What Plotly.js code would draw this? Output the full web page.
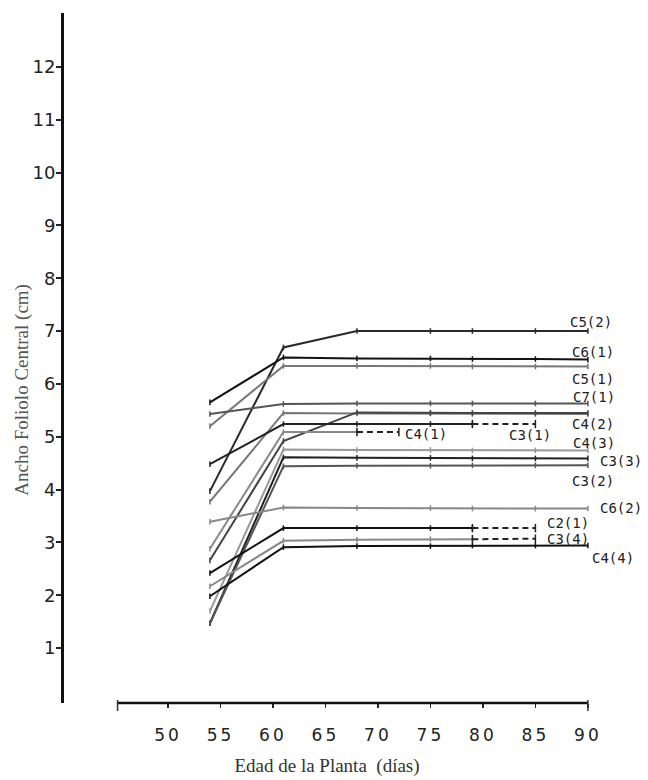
<!DOCTYPE html>
<html>
<head>
<meta charset="utf-8">
<script src="https://cdn.plot.ly/plotly-3.0.1.min.js"></script>
<style>html,body{margin:0;padding:0;background:#fff}</style>
</head>
<body>
<div id="chart" style="width:648px;height:780px"></div>
<script>
// ---------- DATA ----------
const days    = [54, 61, 68, 75, 79, 85, 90];
const daysC41 = [54, 61, 68, 72];

const C5_2  = [3.97, 6.69, 7.00, 7.00, 7.00, 7.00, 7.00];
const C6_1  = [5.65, 6.50, 6.48, 6.48, 6.47, 6.47, 6.46];
const C5_1  = [5.20, 6.34, 6.34, 6.34, 6.33, 6.33, 6.33];
const C7_1  = [5.43, 5.62, 5.63, 5.63, 5.63, 5.63, 5.63];
const C4_2  = [3.77, 5.45, 5.44, 5.44, 5.43, 5.43, 5.43];
const C4_2b = [2.66, 4.92, 5.46, 5.45, 5.45, 5.45, 5.45];
const C3_1  = [4.48, 5.24, 5.24, 5.24, 5.24, 5.24, null];
const C4_1  = [2.88, 5.09, 5.09, 5.09];
const C4_3  = [1.70, 4.76, 4.75, 4.75, 4.74, 4.74, 4.74];
const C3_3  = [1.47, 4.61, 4.60, 4.60, 4.59, 4.59, 4.59];
const C3_2  = [1.47, 4.44, 4.45, 4.45, 4.46, 4.46, 4.46];
const C6_2  = [3.39, 3.66, 3.65, 3.65, 3.64, 3.64, 3.64];
const C2_1  = [2.42, 3.27, 3.27, 3.27, 3.27, 3.27, null];
const C3_4  = [2.17, 3.03, 3.05, 3.06, 3.06, 3.07, null];
const C4_4  = [1.98, 2.91, 2.93, 2.93, 2.94, 2.94, 2.94];

const xTicks = [50, 55, 60, 65, 70, 75, 80, 85, 90];
const yTicks = [1, 2, 3, 4, 5, 6, 7, 8, 9, 10, 11, 12];

// ---------- SERIES (style + label placement) ----------
const series = [
  {label:'C5(2)', x:days,    y:C5_2,  dashFrom:null, color:'#2a2a2a', lx:88.1, ly:7.18},
  {label:'C6(1)', x:days,    y:C6_1,  dashFrom:null, color:'#111111', lx:88.3, ly:6.61},
  {label:'C5(1)', x:days,    y:C5_1,  dashFrom:null, color:'#777777', lx:88.3, ly:6.10},
  {label:'C7(1)', x:days,    y:C7_1,  dashFrom:null, color:'#555555', lx:88.4, ly:5.76},
  {label:'C4(2)', x:days,    y:C4_2,  dashFrom:null, color:'#777777', lx:88.3, ly:5.24},
  {label:'',      x:days,    y:C4_2b, dashFrom:null, color:'#444444'},
  {label:'C3(1)', x:days,    y:C3_1,  dashFrom:4,    color:'#222222', lx:82.3, ly:5.03},
  {label:'C4(1)', x:daysC41, y:C4_1,  dashFrom:2,    color:'#888888', lx:72.4, ly:5.05},
  {label:'C4(3)', x:days,    y:C4_3,  dashFrom:null, color:'#999999', lx:88.4, ly:4.88},
  {label:'C3(3)', x:days,    y:C3_3,  dashFrom:null, color:'#222222', lx:91.0, ly:4.54},
  {label:'C3(2)', x:days,    y:C3_2,  dashFrom:null, color:'#555555', lx:88.3, ly:4.16},
  {label:'C6(2)', x:days,    y:C6_2,  dashFrom:null, color:'#888888', lx:91.0, ly:3.65},
  {label:'C2(1)', x:days,    y:C2_1,  dashFrom:4,    color:'#111111', lx:85.9, ly:3.37},
  {label:'C3(4)', x:days,    y:C3_4,  dashFrom:4,    color:'#888888', lx:85.9, ly:3.07},
  {label:'C4(4)', x:days,    y:C4_4,  dashFrom:null, color:'#111111', lx:90.2, ly:2.71}
];

const X_MIN = 40.1, X_MAX = 90.2, PX_PER_DAY = 10.5;

function pick(xs, ys, a, b){
  const px = [], py = [];
  for (let i = a; i <= b && i < xs.length; i++){
    if (ys[i] !== null && ys[i] !== undefined){ px.push(xs[i]); py.push(ys[i]); }
  }
  return {px, py};
}

const traces = [];
series.forEach(s => {
  const last = s.x.length - 1;
  const solidEnd = (s.dashFrom === null) ? last : s.dashFrom;
  const sp = pick(s.x, s.y, 0, solidEnd);
  traces.push({
    type:'scatter', mode:'lines+markers', x:sp.px, y:sp.py,
    line:{color:s.color, width:2},
    marker:{symbol:'line-ns', size:4, line:{width:1.5, color:s.color}},
    hoverinfo:'skip'
  });
  if (s.dashFrom !== null){
    const dp = pick(s.x, s.y, s.dashFrom, last);
    traces.push({
      type:'scatter', mode:'lines+markers', x:dp.px, y:dp.py,
      line:{color:'#222', width:2, dash:'6px,4px'},
      marker:{symbol:'line-ns', size:6, line:{width:1.5, color:'#222'}},
      hoverinfo:'skip'
    });
  }
});

const annotations = series.filter(s => s.label).map(s => {
  const ax = Math.min(s.lx, X_MAX);
  return {
    x:ax, y:s.ly, xref:'x', yref:'y', text:s.label, showarrow:false,
    xshift:(s.lx - ax) * PX_PER_DAY,
    xanchor:'left', yanchor:'middle',
    font:{family:'DejaVu Sans Mono', size:14, color:'#222'}
  };
});
annotations.push({
  x:-0.08, y:0.454, xref:'paper', yref:'paper', text:'Ancho Foliolo Central (cm)',
  textangle:-90, showarrow:false, xanchor:'center', yanchor:'middle',
  font:{family:'Liberation Serif', size:19, color:'#555'}
});

const layout = {
  width:648, height:780,
  margin:{l:64, r:58, t:13, b:77},
  paper_bgcolor:'#fff', plot_bgcolor:'#fff',
  showlegend:false,
  xaxis:{
    range:[X_MIN, X_MAX], tickvals:xTicks, ticktext:xTicks.map(String),
    ticks:'outside', ticklen:4, tickwidth:1.5, tickcolor:'#222',
    showline:false, showgrid:false, zeroline:false,
    tickfont:{family:'DejaVu Sans', size:17, color:'#222'},
    ticklabelstandoff:13,
    title:{text:'Edad de la Planta  (días)', standoff:14,
           font:{family:'Liberation Serif', size:19, color:'#333'}}
  },
  yaxis:{
    range:[-0.04, 13.02], tickvals:yTicks, ticktext:yTicks.map(String),
    ticks:'outside', ticklen:5, tickwidth:2, tickcolor:'#222',
    showline:true, linewidth:3, linecolor:'#111',
    showgrid:false, zeroline:false,
    tickfont:{family:'DejaVu Sans', size:18, color:'#222'},
    ticklabelstandoff:0
  },
  shapes:[
    {type:'line', xref:'x', yref:'paper', x0:45.2, x1:90.0, y0:0, y1:0, line:{color:'#111', width:2.5}},
    {type:'line', xref:'x', yref:'paper', ysizemode:'pixel', yanchor:0, x0:45.2, x1:45.2, y0:-8, y1:3, line:{color:'#333', width:1.5}},
    {type:'line', xref:'x', yref:'paper', ysizemode:'pixel', yanchor:0, x0:90.0, x1:90.0, y0:-8, y1:3, line:{color:'#333', width:1.5}}
  ],
  annotations:annotations
};

Plotly.newPlot('chart', traces, layout, {staticPlot:true, displayModeBar:false}).then(() => {
  document.querySelectorAll('.xtick text').forEach(t => { t.style.letterSpacing = '3px'; });
  document.querySelectorAll('.ytick text').forEach(t => {
    const tr = t.getAttribute('transform') || '';
    t.setAttribute('transform', 'translate(3,0) ' + tr);
  });
});
</script>
</body>
</html>
